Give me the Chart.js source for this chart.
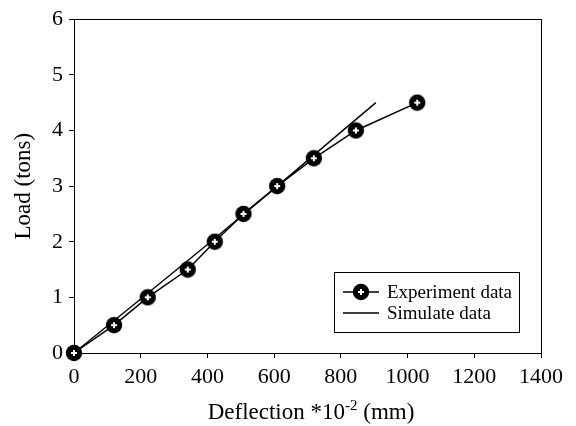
<!DOCTYPE html>
<html>
<head>
<meta charset="utf-8">
<script src="https://cdn.jsdelivr.net/npm/chart.js@4/dist/chart.umd.min.js"></script>
<style>
html,body{margin:0;padding:0;background:#fff;}
#wrap{width:576px;height:426px;}
</style>
</head>
<body>
<div id="wrap"><canvas id="c" width="576" height="426"></canvas></div>
<script>
// ---- data ----
const expDeflection = [0, 120, 221, 341, 422, 508, 609, 719, 845, 1029];
const expLoad       = [0, 0.5, 1.0, 1.5, 2.0, 2.5, 3.0, 3.5, 4.0, 4.5];
const simDeflection = [0, 200, 400, 600, 800, 905];
const simLoad       = [0, 0.97, 1.95, 2.95, 3.97, 4.5];
const xTicks = [0, 200, 400, 600, 800, 1000, 1200, 1400];
const yTicks = [0, 1, 2, 3, 4, 5, 6];
const seriesNames = ['Experiment data', 'Simulate data'];
const xTitleParts = ['Deflection *10', '-2', ' (mm)'];
const yTitle = 'Load (tons)';

const FONT = '"Liberation Serif", "Times New Roman", serif';

// marker: black disc with white plus
function makeMarker(){
  const s = 18, cv = document.createElement('canvas');
  cv.width = s; cv.height = s;
  const g = cv.getContext('2d');
  g.fillStyle = '#000';
  g.beginPath(); g.arc(s/2, s/2, 8.2, 0, Math.PI*2); g.fill();
  g.strokeStyle = '#fff'; g.lineWidth = 2;
  g.beginPath();
  g.moveTo(s/2-3, s/2); g.lineTo(s/2+3, s/2);
  g.moveTo(s/2, s/2-3); g.lineTo(s/2, s/2+3);
  g.stroke();
  return cv;
}
const marker = makeMarker();

const toXY = (xs, ys) => xs.map((x, i) => ({x: x, y: ys[i]}));

const framePlugin = {
  id: 'frame',
  beforeDatasetsDraw(chart){
    const ctx = chart.ctx, a = chart.chartArea;
    ctx.save();
    ctx.strokeStyle = '#000'; ctx.lineWidth = 1;
    ctx.strokeRect(Math.round(a.left)+0.5, Math.round(a.top)+0.5, Math.round(a.right-a.left), Math.round(a.bottom-a.top));
    ctx.restore();
  },
  afterDraw(chart){
    const ctx = chart.ctx, a = chart.chartArea;
    ctx.save();
    // x title with superscript
    ctx.fillStyle = '#000';
    ctx.textBaseline = 'alphabetic';
    const big = '23px ' + FONT, small = '15px ' + FONT;
    ctx.font = big; const w1 = ctx.measureText(xTitleParts[0]).width;
    ctx.font = small; const w2 = ctx.measureText(xTitleParts[1]).width;
    ctx.font = big; const w3 = ctx.measureText(xTitleParts[2]).width;
    const total = w1 + w2 + w3;
    let x0 = 311 - total/2;
    const base = 419;
    ctx.font = big; ctx.textAlign = 'left';
    ctx.fillText(xTitleParts[0], x0, base);
    ctx.font = small; ctx.fillText(xTitleParts[1], x0 + w1, base - 9);
    ctx.font = big; ctx.fillText(xTitleParts[2], x0 + w1 + w2, base);

    // y title
    ctx.save();
    ctx.translate(24, (a.top + a.bottom)/2);
    ctx.rotate(-Math.PI/2);
    ctx.font = big; ctx.textAlign = 'center'; ctx.textBaseline = 'middle';
    ctx.fillText(yTitle, 0, 0);
    ctx.restore();

    // legend box
    const bx = 334, by = 272, bw = 185, bh = 60;
    ctx.fillStyle = '#fff';
    ctx.fillRect(bx, by, bw, bh);
    ctx.strokeStyle = '#000'; ctx.lineWidth = 1;
    ctx.strokeRect(bx + 0.5, by + 0.5, bw, bh);
    const rows = [292, 313];
    const ds = chart.data.datasets;
    ctx.font = '19px ' + FONT; ctx.textAlign = 'left'; ctx.textBaseline = 'middle';
    for (let i = 0; i < ds.length; i++){
      const y = rows[i];
      ctx.strokeStyle = ds[i].borderColor; ctx.lineWidth = ds[i].borderWidth;
      ctx.beginPath(); ctx.moveTo(343, y); ctx.lineTo(379, y); ctx.stroke();
      if (ds[i].pointRadius > 0) ctx.drawImage(marker, 361 - 9, y - 9);
      ctx.fillStyle = '#000';
      ctx.fillText(ds[i].label, 387, y + 1);
    }
    ctx.restore();
  }
};

new Chart(document.getElementById('c'), {
  type: 'scatter',
  data: {
    datasets: [
      {
        label: seriesNames[0],
        data: toXY(expDeflection, expLoad),
        showLine: true,
        borderColor: '#000',
        borderWidth: 1.5,
        pointStyle: marker,
        pointRadius: 8,
        pointHoverRadius: 8,
        clip: false
      },
      {
        label: seriesNames[1],
        data: toXY(simDeflection, simLoad),
        showLine: true,
        borderColor: '#000',
        borderWidth: 1.4,
        pointRadius: 0,
        pointHoverRadius: 0,
        clip: false
      }
    ]
  },
  options: {
    responsive: false,
    animation: false,
    devicePixelRatio: 1,
    layout: { padding: { top: 17, right: 35, left: 0, bottom: 0 } },
    plugins: { legend: { display: false }, tooltip: { enabled: false } },
    scales: {
      x: {
        type: 'linear', min: 0, max: 1400,
        afterBuildTicks(s){ s.ticks = xTicks.map(v => ({value: v})); },
        afterFit(s){ s.height = 73; },
        grid: { display: true, drawOnChartArea: false, drawTicks: true, tickLength: 5, color: '#000', lineWidth: 1 },
        border: { display: true, color: '#000', width: 1 },
        ticks: { color: '#000', font: { family: FONT, size: 22 }, padding: 6, maxRotation: 0, autoSkip: false,
                 callback: v => String(v) }
      },
      y: {
        type: 'linear', min: 0, max: 6,
        afterBuildTicks(s){ s.ticks = yTicks.map(v => ({value: v})); },
        afterFit(s){ s.width = 74; },
        grid: { display: true, drawOnChartArea: false, drawTicks: true, tickLength: 5, color: '#000', lineWidth: 1 },
        border: { display: true, color: '#000', width: 1 },
        ticks: { color: '#000', font: { family: FONT, size: 22 }, padding: 6, autoSkip: false,
                 callback: v => String(v) }
      }
    }
  },
  plugins: [framePlugin]
});
</script>
</body>
</html>
